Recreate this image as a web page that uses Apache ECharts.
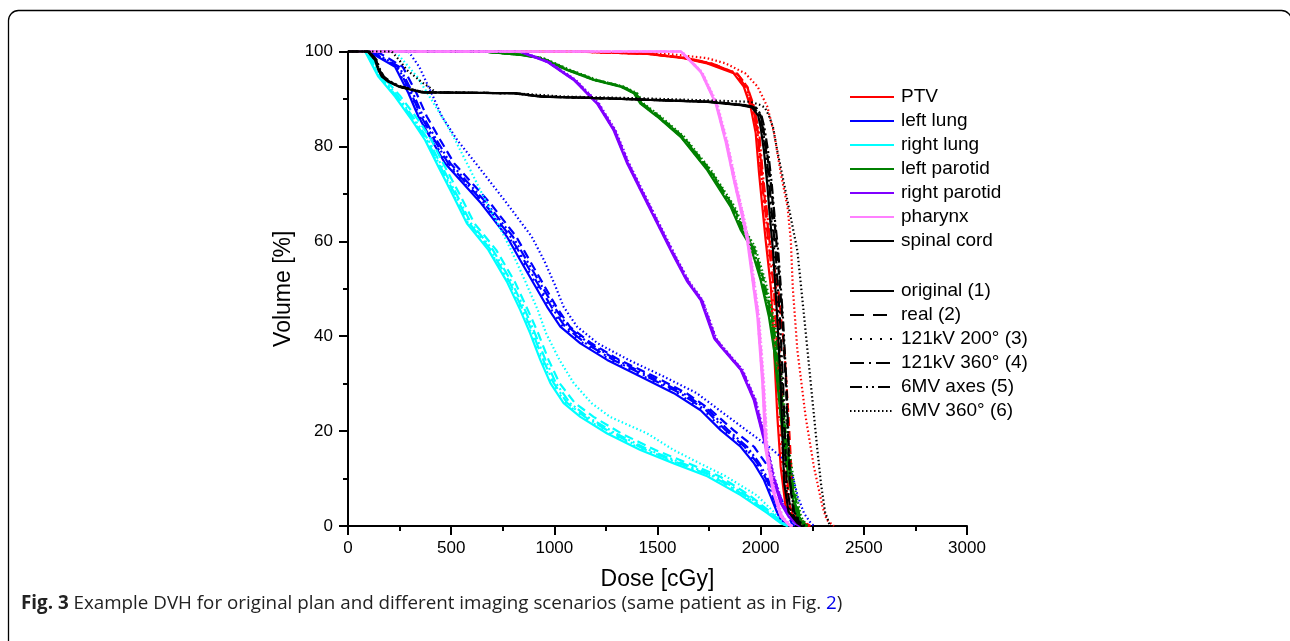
<!DOCTYPE html>
<html><head><meta charset="utf-8">
<script src="https://cdn.jsdelivr.net/npm/echarts@6/dist/echarts.min.js"></script>
<style>html,body{margin:0;padding:0;background:#fff}#c{width:1290px;height:641px}</style>
</head><body><div id="c"></div>
<script>
// ---- labels ----
const structures = ['PTV', 'left lung', 'right lung', 'left parotid', 'right parotid', 'pharynx', 'spinal cord'];
const structureColors = ['#ff0000', '#0000ff', '#00ffff', '#008000', '#8000ff', '#ff80ff', '#000000'];
const scenarios = ['original (1)', 'real (2)', '121kV 200° (3)', '121kV 360° (4)', '6MV axes (5)', '6MV 360° (6)'];
const doseTicks = [0, 500, 1000, 1500, 2000, 2500, 3000];
const volumeTicks = [0, 20, 40, 60, 80, 100];

// ---- data: volume levels [%] and dose [cGy] per scenario (rows = scenarios 1..6) ----
const ptvVol = [100, 100, 99.5, 98.6, 97.5, 95.4, 92.6, 88.4, 82.8, 74.4, 67.3, 60.3, 50, 37, 23, 12.5, 4, 1.3, 0];
const ptvDose = [
  [0, 1100, 1450, 1626, 1741, 1869, 1918, 1951, 1976, 1992, 2008, 2024, 2050, 2065, 2081, 2097, 2121, 2162, 2227],
  [0, 1100, 1460, 1640, 1760, 1885, 1935, 1962, 1988, 2006, 2024, 2042, 2085, 2115, 2135, 2148, 2162, 2190, 2242],
  [0, 1100, 1455, 1630, 1748, 1873, 1922, 1956, 1980, 1997, 2013, 2030, 2056, 2072, 2088, 2104, 2128, 2168, 2232],
  [0, 1100, 1460, 1635, 1752, 1878, 1928, 1960, 1985, 2002, 2020, 2036, 2064, 2080, 2096, 2112, 2134, 2172, 2235],
  [0, 1100, 1465, 1645, 1760, 1885, 1935, 1968, 1993, 2010, 2028, 2045, 2075, 2092, 2108, 2123, 2142, 2178, 2238],
  [0, 1150, 1550, 1740, 1830, 1925, 1985, 2032, 2065, 2097, 2130, 2146, 2156, 2178, 2218, 2258, 2300, 2320, 2355]
];

const lungLVol = [100, 100, 99.6, 96.8, 91.2, 86.3, 81.3, 76.4, 68, 61, 56, 51.1, 46.2, 42, 38.5, 35, 31.5, 28, 24.4, 20.2, 16.7, 13.2, 9.7, 6.2, 2.7, 0.6, 0];
const lungLDose = [
  [0, 95, 115, 228, 293, 341, 406, 471, 645, 770, 835, 900, 965, 1029, 1126, 1256, 1417, 1579, 1709, 1806, 1903, 1968, 2016, 2049, 2081, 2105, 2130],
  [0, 130, 155, 265, 332, 382, 448, 515, 690, 815, 880, 945, 1010, 1075, 1180, 1315, 1485, 1640, 1760, 1868, 1968, 2025, 2065, 2095, 2130, 2150, 2165],
  [0, 100, 121, 234, 300, 348, 413, 479, 653, 779, 845, 910, 976, 1041, 1140, 1272, 1434, 1596, 1724, 1820, 1914, 1977, 2023, 2055, 2086, 2109, 2134],
  [0, 104, 125, 240, 306, 354, 420, 486, 661, 787, 853, 919, 986, 1052, 1152, 1285, 1448, 1609, 1735, 1830, 1922, 1984, 2029, 2060, 2090, 2113, 2138],
  [0, 110, 132, 248, 315, 364, 430, 497, 673, 799, 866, 932, 999, 1066, 1168, 1302, 1465, 1624, 1748, 1843, 1934, 1994, 2037, 2067, 2097, 2120, 2145],
  [0, 290, 300, 345, 405, 455, 530, 620, 770, 890, 950, 1000, 1045, 1110, 1210, 1360, 1530, 1690, 1800, 1930, 2040, 2135, 2160, 2180, 2210, 2243, 2260]
];

const lungRVol = [100, 100, 94.7, 90.5, 85.6, 81.3, 75.7, 70, 63.8, 58.2, 51.5, 45.5, 40.6, 35, 30.1, 25.9, 23, 19.5, 16, 13.2, 10.5, 6.5, 2.7, 0.6, 0];
const lungRDose = [
  [0, 83, 147, 228, 309, 374, 438, 505, 576, 680, 770, 835, 883, 932, 981, 1045, 1126, 1256, 1417, 1579, 1741, 1903, 2032, 2097, 2130],
  [0, 100, 170, 255, 340, 405, 470, 540, 612, 718, 808, 872, 922, 972, 1025, 1100, 1190, 1325, 1490, 1650, 1800, 1945, 2055, 2105, 2135],
  [0, 85, 150, 232, 313, 378, 443, 511, 582, 686, 776, 841, 889, 939, 989, 1055, 1138, 1270, 1432, 1595, 1755, 1912, 2037, 2100, 2132],
  [0, 88, 153, 236, 318, 383, 448, 517, 588, 692, 782, 848, 896, 946, 997, 1063, 1148, 1282, 1445, 1607, 1766, 1920, 2042, 2102, 2134],
  [0, 92, 158, 242, 325, 390, 456, 525, 596, 702, 792, 858, 906, 957, 1008, 1076, 1162, 1298, 1460, 1622, 1780, 1930, 2047, 2104, 2136],
  [0, 230, 335, 395, 465, 520, 585, 650, 725, 790, 860, 920, 960, 1025, 1094, 1180, 1270, 1450, 1579, 1705, 1830, 1980, 2070, 2110, 2140]
];

const parLVol = [100, 100, 99.3, 98.6, 96.1, 94, 92.6, 91.2, 89, 86.3, 82, 75, 67.3, 62.4, 58.9, 51.8, 44.1, 37, 26.6, 16, 7.6, 2, 0.2, 0];
const parLDose = [
  [0, 650, 835, 932, 1061, 1190, 1320, 1385, 1417, 1498, 1612, 1741, 1854, 1903, 1951, 2000, 2040, 2065, 2089, 2114, 2146, 2178, 2209, 2220],
  [0, 660, 845, 942, 1072, 1202, 1332, 1396, 1428, 1510, 1625, 1755, 1868, 1918, 1966, 2015, 2055, 2080, 2104, 2130, 2160, 2190, 2218, 2228],
  [0, 652, 838, 935, 1064, 1193, 1323, 1388, 1420, 1501, 1615, 1744, 1857, 1906, 1954, 2003, 2043, 2068, 2092, 2117, 2149, 2181, 2211, 2222],
  [0, 654, 840, 937, 1066, 1196, 1326, 1390, 1422, 1504, 1618, 1747, 1860, 1909, 1957, 2006, 2046, 2071, 2095, 2120, 2152, 2183, 2213, 2223],
  [0, 656, 842, 940, 1069, 1199, 1329, 1393, 1425, 1507, 1621, 1751, 1864, 1913, 1961, 2010, 2050, 2075, 2099, 2125, 2156, 2186, 2215, 2225],
  [0, 665, 850, 948, 1078, 1208, 1338, 1402, 1434, 1516, 1630, 1760, 1874, 1924, 1972, 2022, 2062, 2088, 2112, 2138, 2168, 2196, 2222, 2232]
];

const parRVol = [100, 100, 97.8, 94, 89, 83.4, 76.4, 70.8, 63.8, 56.8, 51.5, 47.6, 39.5, 37.8, 32.9, 26.6, 18.1, 10.4, 4.8, 1.9, 0.2, 0];
const parRDose = [
  [0, 830, 965, 1094, 1207, 1287, 1353, 1417, 1498, 1579, 1644, 1709, 1775, 1806, 1903, 1966, 2016, 2056, 2097, 2136, 2178, 2190],
  [0, 836, 971, 1100, 1213, 1293, 1359, 1423, 1504, 1585, 1650, 1716, 1782, 1813, 1910, 1973, 2023, 2063, 2104, 2143, 2184, 2196],
  [0, 832, 967, 1096, 1209, 1289, 1355, 1419, 1500, 1581, 1646, 1711, 1777, 1808, 1905, 1968, 2018, 2058, 2099, 2138, 2180, 2192],
  [0, 833, 968, 1097, 1210, 1290, 1356, 1420, 1501, 1582, 1647, 1712, 1778, 1809, 1906, 1969, 2019, 2059, 2100, 2139, 2181, 2193],
  [0, 835, 970, 1099, 1212, 1292, 1358, 1422, 1503, 1584, 1649, 1714, 1780, 1811, 1908, 1971, 2021, 2061, 2102, 2141, 2183, 2195],
  [0, 840, 975, 1104, 1217, 1297, 1363, 1427, 1508, 1589, 1654, 1719, 1785, 1816, 1913, 1976, 2026, 2066, 2107, 2146, 2188, 2200]
];

const pharVol = [100, 100, 95.7, 89, 81, 73, 65, 60, 44, 30, 16, 7.6, 2, 0.2, 0];
const pharDose = [
  [0, 1612, 1709, 1782, 1830, 1869, 1911, 1935, 1984, 2008, 2024, 2057, 2097, 2136, 2150],
  [0, 1616, 1714, 1787, 1836, 1875, 1917, 1941, 1990, 2014, 2031, 2064, 2104, 2142, 2156],
  [0, 1613, 1710, 1783, 1831, 1870, 1912, 1936, 1985, 2009, 2025, 2058, 2098, 2137, 2151],
  [0, 1614, 1711, 1784, 1833, 1872, 1914, 1938, 1987, 2011, 2027, 2060, 2100, 2139, 2153],
  [0, 1615, 1713, 1786, 1835, 1874, 1916, 1940, 1989, 2013, 2029, 2062, 2102, 2141, 2155],
  [0, 1618, 1716, 1790, 1839, 1878, 1920, 1944, 1993, 2017, 2034, 2067, 2107, 2146, 2160]
];

const spinalVol = [100, 100, 98.2, 96.1, 94.7, 93.6, 92.6, 91.9, 91.4, 91.2, 90.5, 90.1, 89.4, 88.7, 88.2, 86.5, 84, 79, 72, 65, 58, 44, 30, 16, 9, 3, 0.6, 0];
const spinalDose = [
  [0, 95, 131, 147, 164, 196, 245, 309, 358, 800, 932, 1256, 1741, 1903, 1958, 1988, 2000, 2016, 2032, 2045, 2060, 2080, 2097, 2108, 2114, 2135, 2178, 2200],
  [0, 105, 136, 153, 170, 203, 252, 316, 366, 810, 945, 1270, 1755, 1920, 1975, 2000, 2012, 2030, 2050, 2065, 2080, 2105, 2122, 2135, 2142, 2158, 2190, 2210],
  [0, 97, 133, 149, 166, 199, 248, 312, 361, 803, 936, 1260, 1746, 1908, 1962, 1992, 2005, 2021, 2037, 2050, 2066, 2087, 2103, 2114, 2120, 2141, 2182, 2203],
  [0, 99, 135, 151, 168, 201, 250, 314, 363, 806, 939, 1263, 1750, 1912, 1966, 1996, 2009, 2026, 2042, 2056, 2072, 2093, 2109, 2120, 2126, 2146, 2186, 2206],
  [0, 102, 139, 156, 174, 207, 257, 321, 371, 815, 950, 1275, 1760, 1925, 1978, 2004, 2018, 2036, 2054, 2068, 2085, 2108, 2125, 2137, 2144, 2162, 2195, 2214],
  [0, 212, 248, 285, 325, 355, 390, 410, 425, 800, 1050, 1450, 1951, 2000, 2020, 2040, 2060, 2081, 2114, 2146, 2178, 2211, 2243, 2275, 2292, 2312, 2331, 2340]
];

const structureVols = [ptvVol, lungLVol, lungRVol, parLVol, parRVol, pharVol, spinalVol];
const structureDoses = [ptvDose, lungLDose, lungRDose, parLDose, parRDose, pharDose, spinalDose];

// ---- styles ----
const dashTypes = ['solid', [9, 5], [2, 7], [12, 4, 2, 4], [10, 3, 2, 3, 2, 3], [1.5, 2.5]];
const legendDashTypes = ['solid', [14, 9], [2, 8], [14, 5, 2, 5], [12, 4, 2, 4, 2, 4], [1.5, 2.5]];
const FONT = '"Liberation Sans", Arial, sans-serif';

const series = [];
structures.forEach((name, i) => {
  structureDoses[i].forEach((doses, j) => {
    series.push({
      name: name + ' #' + (j + 1),
      type: 'line', symbol: 'none', clip: false, silent: true,
      data: doses.map((d, k) => [d, structureVols[i][k]]),
      lineStyle: { color: structureColors[i], width: 2.2, type: dashTypes[j] },
      z: 2 + i
    });
  });
});
// legend-only series
structures.forEach((name, i) => {
  series.push({ name, type: 'line', symbol: 'none', data: [],
    lineStyle: { color: structureColors[i], width: 2.5, type: 'solid' }, itemStyle: { color: structureColors[i] } });
});
scenarios.forEach((name, j) => {
  series.push({ name, type: 'line', symbol: 'none', data: [],
    lineStyle: { color: '#000', width: 2.5, type: legendDashTypes[j] }, itemStyle: { color: '#000' } });
});

const legendBase = {
  orient: 'vertical', left: 849, itemWidth: 44, itemHeight: 14, itemGap: 0, padding: 0,
  selectedMode: false,
  itemStyle: { color: 'rgba(0,0,0,0)', borderWidth: 0, opacity: 0 },
  textStyle: { fontFamily: FONT, fontSize: 19, color: '#000', lineHeight: 24, padding: [0, 0, 0, 2] }
};

const plainNum = v => String(v);
const axisCommon = {
  type: 'value',
  axisLine: { show: true, lineStyle: { color: '#000', width: 2 } },
  axisTick: { show: true, inside: false, length: 9, lineStyle: { color: '#000', width: 2 } },
  minorTick: { show: true, splitNumber: 2, length: 5, lineStyle: { color: '#000', width: 2 } },
  splitLine: { show: false },
  minorSplitLine: { show: false },
  nameLocation: 'middle',
  nameTextStyle: { fontFamily: FONT, fontSize: 23, color: '#000' }
};

const chart = echarts.init(document.getElementById('c'), null, { renderer: 'canvas' });
chart.setOption({
  animation: false,
  backgroundColor: '#fff',
  grid: { left: 348, top: 51.5, right: 323, bottom: 115, containLabel: false },
  xAxis: Object.assign({}, axisCommon, {
    min: doseTicks[0], max: doseTicks[doseTicks.length - 1], interval: doseTicks[1] - doseTicks[0],
    name: 'Dose [cGy]', nameGap: 42,
    axisLabel: { fontFamily: FONT, fontSize: 17, color: '#000', margin: 14, formatter: plainNum }
  }),
  yAxis: Object.assign({}, axisCommon, {
    min: volumeTicks[0], max: volumeTicks[volumeTicks.length - 1], interval: volumeTicks[1] - volumeTicks[0],
    name: 'Volume [%]', nameGap: 53, nameRotate: 90,
    axisLabel: { fontFamily: FONT, fontSize: 17, color: '#000', margin: 15, formatter: plainNum }
  }),
  legend: [
    Object.assign({}, legendBase, { top: 85, data: structures }),
    Object.assign({}, legendBase, { top: 279, data: scenarios })
  ],
  graphic: [
    { type: 'rect', z: -10, silent: true,
      shape: { x: 8.5, y: 10.5, width: 1283, height: 700, r: 10 },
      style: { fill: 'none', stroke: '#000', lineWidth: 1.3 } },
    { type: 'text', left: 21, top: 594, silent: true,
      style: {
        text: '{b|Fig. 3} Example DVH for original plan and different imaging scenarios (same patient as in Fig. {l|2})',
        fontFamily: '"Open Sans", sans-serif', fontSize: 18.8, fill: '#222',
        rich: {
          b: { fontFamily: '"Open Sans", sans-serif', fontSize: 18.8, fontWeight: 'bold', fill: '#222' },
          l: { fontFamily: '"Open Sans", sans-serif', fontSize: 18.8, fill: '#0000ee' }
        }
      } }
  ],
  series
});
</script>
</body></html>
